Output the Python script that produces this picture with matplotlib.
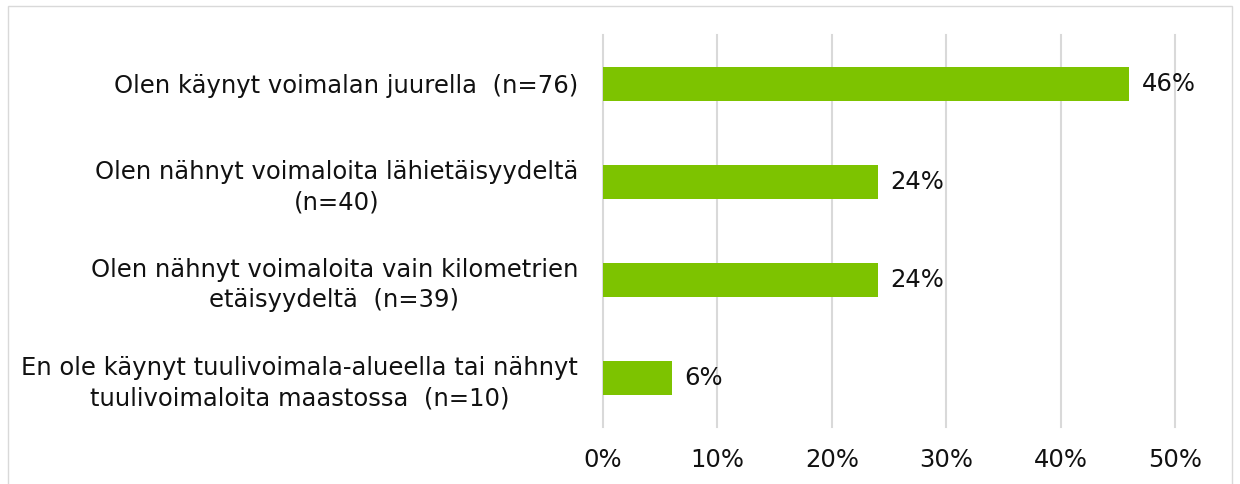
import matplotlib.pyplot as plt
from matplotlib.patches import Rectangle

categories = [
    "Olen käynyt voimalan juurella  (n=76)",
    "Olen nähnyt voimaloita lähietäisyydeltä\n(n=40)",
    "Olen nähnyt voimaloita vain kilometrien\netäisyydeltä  (n=39)",
    "En ole käynyt tuulivoimala-alueella tai nähnyt\ntuulivoimaloita maastossa  (n=10)",
]
values = [46, 24, 24, 6]
xticks = [0, 10, 20, 30, 40, 50]

plt.rcParams['font.family'] = ['DejaVu Sans']
FS = 17.5

fig = plt.figure(figsize=(12.4, 4.84), dpi=100)
ax = fig.add_axes([0.4863, 0.1178, 0.4613, 0.8099])

ypos = list(range(len(categories)))
ax.barh(ypos, values, height=0.34, color='#7DC300', zorder=3)

for y, v in zip(ypos, values):
    ax.text(v + 1.1, y, f"{v}%", va='center', ha='left', fontsize=FS, color='#111111')

ax.set_ylim(len(categories) - 0.5, -0.5)
ax.set_xlim(0, 50)
ax.set_xticks(xticks)
ax.set_xticklabels([f"{t}%" for t in xticks], fontsize=FS, color='#111111')
ax.set_yticks(ypos)
ax.set_yticklabels(categories, fontsize=FS, color='#111111', ha='right',
                   multialignment='center', linespacing=1.3)
ax.tick_params(axis='y', length=0, pad=18)
ax.tick_params(axis='x', length=0, pad=15)

ax.grid(axis='x', color='#D9D9D9', linewidth=1.5, zorder=0)
for line in ax.get_xgridlines():
    line.set_clip_on(False)
for s in ax.spines.values():
    s.set_visible(False)

# outer chart frame
fig.patches.append(Rectangle((8 / 1240, -0.05), 1224 / 1240, 1.05 - 6 / 484,
                             transform=fig.transFigure, fill=False,
                             edgecolor='#D9D9D9', linewidth=1.0))

fig.savefig("out.png", dpi=100)
